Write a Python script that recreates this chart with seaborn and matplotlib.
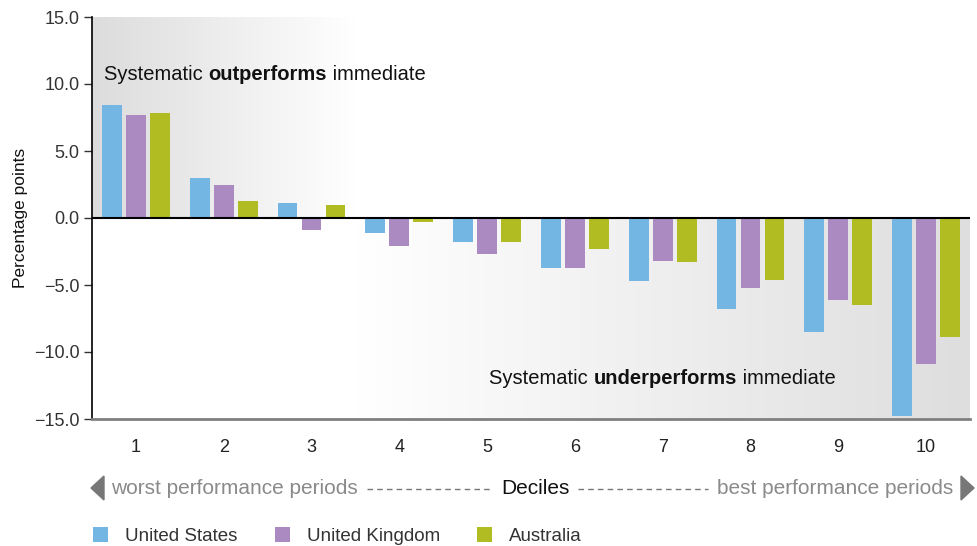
import matplotlib
matplotlib.use("Agg")
import matplotlib.pyplot as plt
from matplotlib.colors import LinearSegmentedColormap
from matplotlib.patches import Polygon, Patch
import seaborn as sns
import pandas as pd
import numpy as np

# data
deciles = ["1", "2", "3", "4", "5", "6", "7", "8", "9", "10"]
countries = ["United States", "United Kingdom", "Australia"]
us_vals = [8.4, 3.0, 1.1, -1.1, -1.8, -3.7, -4.7, -6.8, -8.5, -14.8]
uk_vals = [7.7, 2.5, -0.9, -2.1, -2.7, -3.7, -3.2, -5.2, -6.1, -10.9]
au_vals = [7.8, 1.3, 1.0, -0.3, -1.8, -2.3, -3.3, -4.6, -6.5, -8.9]
colors = ["#74b6e3", "#ab8ac1", "#b0bc22"]
yticks = [15, 10, 5, 0, -5, -10, -15]

df = pd.DataFrame({
    "Decile": deciles * 3,
    "Country": [c for c in countries for _ in deciles],
    "Value": us_vals + uk_vals + au_vals,
})

sns.set_style("white")
plt.rcParams["font.family"] = ["Liberation Sans", "DejaVu Sans"]
plt.rcParams["axes.unicode_minus"] = True

fig = plt.figure(figsize=(9.77, 5.46), dpi=100)
ax = fig.add_axes([92 / 977, 1 - 419 / 546, 878 / 977, 402 / 546])

sns.barplot(data=df, x="Decile", y="Value", hue="Country", palette=colors,
            width=0.82, gap=0.17, saturation=1, legend=False, ax=ax, zorder=3,
            linewidth=0, edgecolor="none")

# background gradients
cm_left = LinearSegmentedColormap.from_list("l", ["#dcdcdc", "#ffffff"])
cm_right = LinearSegmentedColormap.from_list("r", ["#ffffff", "#dedede"])
grad = np.linspace(0, 1, 256).reshape(1, -1)
ax.imshow(grad, cmap=cm_left, extent=[-0.5, 2.5, 0, 15], aspect="auto", zorder=0)
ax.imshow(grad, cmap=cm_right, extent=[2.5, 9.5, -15, 0], aspect="auto", zorder=0)
ax.set_xlim(-0.5, 9.5)
ax.set_ylim(-15, 15)

ax.axhline(0, color="black", lw=1.5, zorder=4)
for s in ["top", "right"]:
    ax.spines[s].set_visible(False)
ax.spines["left"].set_color("black")
ax.spines["left"].set_linewidth(1.2)
ax.spines["bottom"].set_color("#808080")
ax.spines["bottom"].set_linewidth(2)

ax.set_yticks(yticks)
ax.set_yticklabels([f"{v:.1f}".replace("-", "\u2212") for v in yticks])
ax.tick_params(axis="y", left=True, length=6, width=1, color="#333333",
               labelsize=13, labelcolor="#333333", pad=3)
ax.tick_params(axis="x", bottom=False, labelsize=13, labelcolor="#222222", pad=11)
ax.set_xlabel("")
ax.set_ylabel("Percentage points", fontsize=12.5, color="#111111", labelpad=4)

# overlay in pixel coordinates
ov = fig.add_axes([0, 0, 1, 1], zorder=10)
ov.set_xlim(0, 977)
ov.set_ylim(546, 0)
ov.axis("off")


def multi_text(x, y, parts, size):
    # draw consecutive text pieces, bold in the middle
    r = fig.canvas.get_renderer()
    cur = x
    for txt, weight in parts:
        t = ov.text(cur, y, txt, fontsize=size, fontweight=weight, color="#111111",
                    va="center", ha="left")
        cur += t.get_window_extent(renderer=r).width


multi_text(104, 75, [("Systematic ", "normal"), ("outperforms", "bold"),
                     (" immediate", "normal")], 14.5)
multi_text(489, 379, [("Systematic ", "normal"), ("underperforms", "bold"),
                      (" immediate", "normal")], 14.5)

# decile direction row
ov.add_patch(Polygon([(91, 488), (104, 476), (104, 500)], closed=True, color="#777777"))
ov.add_patch(Polygon([(974, 488), (961, 476), (961, 500)], closed=True, color="#777777"))
ov.text(111, 488, "worst performance periods", fontsize=15, color="#8a8a8a",
        va="center", ha="left")
ov.text(953, 488, "best performance periods", fontsize=15, color="#8a8a8a",
        va="center", ha="right")
ov.text(535, 488, "Deciles", fontsize=15, color="#111111", va="center", ha="center")
ov.plot([367, 492], [489, 489], color="#777777", lw=1, ls=(0, (4, 3)))
ov.plot([578, 708], [489, 489], color="#777777", lw=1, ls=(0, (4, 3)))

# legend
handles = [Patch(facecolor=c, edgecolor="none", label=l) for c, l in zip(colors, countries)]
fig.legend(handles=handles, loc="center left", bbox_to_anchor=(93 / 977, 1 - 536 / 546),
           ncol=3, frameon=False, fontsize=13.5, handlelength=0.8, handleheight=0.8,
           handletextpad=0.9, columnspacing=2.0, labelcolor="#333333",
           borderpad=0, borderaxespad=0)

plt.savefig("out.png", dpi=100)
